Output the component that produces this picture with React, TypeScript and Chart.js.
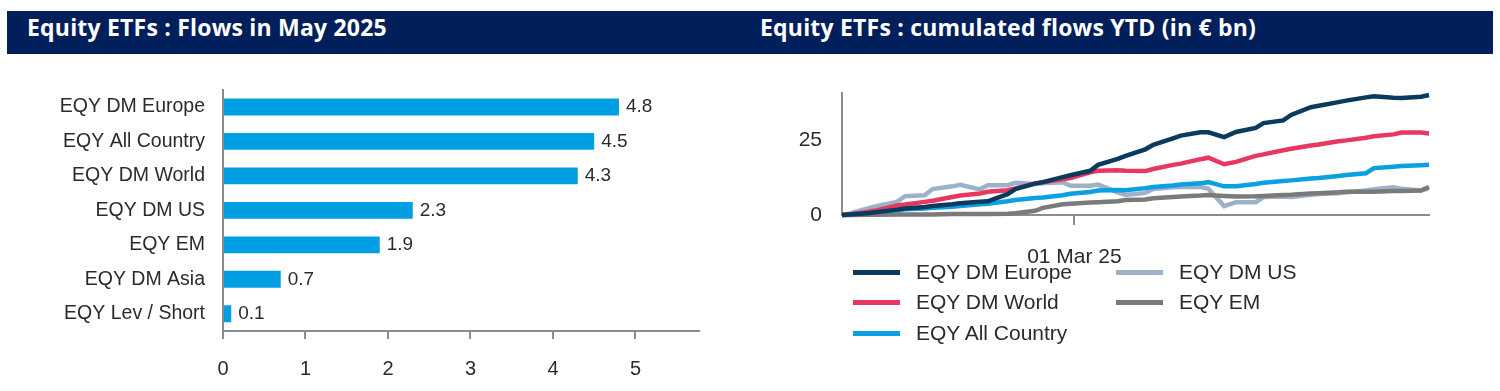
import React, { useEffect, useRef } from 'react';
import { Chart, registerables } from 'chart.js';

Chart.register(...registerables);

// ---------- Left panel: flows in May 2025 ----------
const barCategories = [
  'EQY DM Europe',
  'EQY All Country',
  'EQY DM World',
  'EQY DM US',
  'EQY EM',
  'EQY DM Asia',
  'EQY Lev / Short',
];
const barValues = [4.8, 4.5, 4.3, 2.3, 1.9, 0.7, 0.1];
const barTicks = [0, 1, 2, 3, 4, 5];
const barAxisMax = 5.77;

// ---------- Right panel: cumulated flows YTD ----------
const lineDates = [
  '2025-01-01', '2025-01-02', '2025-01-03', '2025-01-08', '2025-01-10', '2025-01-15', '2025-01-17',
  '2025-01-22', '2025-01-24', '2025-01-29', '2025-01-31', '2025-02-05', '2025-02-07', '2025-02-12',
  '2025-02-14', '2025-02-19', '2025-02-21', '2025-02-26', '2025-02-28', '2025-03-05', '2025-03-07',
  '2025-03-12', '2025-03-14', '2025-03-19', '2025-03-21', '2025-03-26', '2025-03-28', '2025-04-02',
  '2025-04-04', '2025-04-08', '2025-04-11', '2025-04-16', '2025-04-18', '2025-04-23', '2025-04-25',
  '2025-04-30', '2025-05-02', '2025-05-07', '2025-05-09', '2025-05-14', '2025-05-16', '2025-05-21',
  '2025-05-23', '2025-05-28', '2025-05-30',
];
const dmEurope = [
  0, 0.1, 0.2, 0.7, 1.0, 1.8, 2.2, 2.7, 3.0, 3.6, 3.9, 4.4, 4.6, 7.0, 8.7, 10.5, 11.0, 12.7, 13.3,
  14.8, 16.8, 18.8, 19.8, 22.0, 23.5, 25.7, 26.6, 27.7, 27.7, 26.1, 27.8, 29.2, 30.8, 31.7, 33.5,
  36.1, 36.6, 37.8, 38.3, 39.4, 39.8, 39.3, 39.2, 39.6, 40.2,
];
const dmWorld = [
  0, 0.1, 0.2, 1.2, 1.6, 3.2, 3.5, 4.4, 4.8, 6.0, 6.5, 7.2, 7.8, 8.3, 8.9, 10.6, 11.0, 12.0, 12.4,
  14.3, 14.8, 15.0, 14.8, 14.7, 15.4, 16.8, 17.2, 18.7, 19.2, 17.0, 17.8, 19.8, 20.3, 21.7, 22.2,
  23.3, 23.6, 24.7, 25.0, 25.9, 26.4, 27.0, 27.6, 27.6, 27.3,
];
const allCountry = [
  0, 0.1, 0.2, 0.8, 1.1, 1.6, 1.9, 2.2, 2.4, 2.8, 3.0, 3.6, 3.8, 4.6, 5.0, 5.7, 5.9, 6.6, 7.1,
  7.7, 8.2, 8.4, 8.3, 9.0, 9.4, 9.9, 10.2, 10.6, 11.0, 9.6, 9.6, 10.4, 10.8, 11.4, 11.6, 12.2,
  12.4, 13.1, 13.4, 14.0, 15.7, 16.2, 16.4, 16.7, 16.8,
];
const dmUS = [
  0, 0.2, 0.5, 2.4, 3.0, 4.4, 6.3, 6.6, 8.7, 9.6, 10.1, 8.6, 10.0, 10.0, 10.8, 10.4, 10.6, 11.0,
  9.8, 9.8, 10.2, 7.6, 6.7, 7.4, 8.7, 9.3, 9.4, 9.4, 8.8, 3.0, 4.3, 4.3, 6.0, 6.2, 6.0, 6.8, 7.0,
  7.3, 7.6, 8.2, 8.6, 9.3, 8.8, 8.2, 9.0,
];
const em = [
  0, 0, 0, 0.1, 0.1, 0.2, 0.2, 0.2, 0.2, 0.3, 0.3, 0.3, 0.3, 0.4, 0.6, 1.4, 2.4, 3.6, 3.8, 4.2,
  4.3, 4.6, 5.0, 5.2, 5.6, 6.0, 6.2, 6.5, 6.7, 6.4, 6.2, 6.3, 6.4, 6.7, 6.8, 7.2, 7.3, 7.6, 7.8,
  7.8, 7.8, 8.0, 8.0, 8.2, 9.4,
];
const lineYTicks = [0, 25];
const lineYMax = 41;
const xTickDate = '2025-03-01';
const xTickLabel = '01 Mar 25';

const FONT = '"Liberation Sans", Arial, sans-serif';
const AXIS = '#8c8c8c';
const TEXT = '#2b2b2b';
const BAR_COLOR = '#009fe3';

const C_EUROPE = '#0b3a5f';
const C_WORLD = '#e8385f';
const C_ALL = '#0aa0e1';
const C_US = '#9db1c9';
const C_EM = '#7a7a7a';

const lineSeries = [
  { label: 'EQY DM Europe', color: C_EUROPE, values: dmEurope },
  { label: 'EQY DM World', color: C_WORLD, values: dmWorld },
  { label: 'EQY All Country', color: C_ALL, values: allCountry },
  { label: 'EQY EM', color: C_EM, values: em },
  { label: 'EQY DM US', color: C_US, values: dmUS },
];
const legendCol1 = ['EQY DM Europe', 'EQY DM World', 'EQY All Country'];
const legendCol2 = ['EQY DM US', 'EQY EM'];

const DAY0 = Date.parse('2025-01-01T00:00:00Z');
const dayOf = (s: string) => (Date.parse(s + 'T00:00:00Z') - DAY0) / 86400000;

const valueLabelPlugin = {
  id: 'valueLabels',
  afterDatasetsDraw(chart: any) {
    const ctx = chart.ctx;
    const meta = chart.getDatasetMeta(0);
    ctx.save();
    ctx.font = `19px ${FONT}`;
    ctx.fillStyle = TEXT;
    ctx.textAlign = 'left';
    ctx.textBaseline = 'middle';
    meta.data.forEach((el: any, i: number) => {
      ctx.fillText(barValues[i].toFixed(1), el.x + 7, el.y);
    });
    ctx.restore();
  },
};

function BarPanel() {
  const ref = useRef<HTMLCanvasElement>(null);
  useEffect(() => {
    const chart = new Chart(ref.current as HTMLCanvasElement, {
      type: 'bar',
      data: {
        labels: barCategories,
        datasets: [
          {
            data: barValues,
            backgroundColor: BAR_COLOR,
            barPercentage: 0.5,
            categoryPercentage: 0.98,
          },
        ],
      },
      options: {
        indexAxis: 'y',
        responsive: false,
        animation: false,
        devicePixelRatio: 1,
        layout: { padding: { left: 0, right: 21, top: 28, bottom: 0 } },
        plugins: { legend: { display: false }, tooltip: { enabled: false } },
        scales: {
          x: {
            min: 0,
            max: barAxisMax,
            afterBuildTicks: (s: any) => {
              s.ticks = barTicks.map((v) => ({ value: v }));
            },
            grid: { display: true, drawOnChartArea: false, drawTicks: true, tickLength: 8, color: AXIS, lineWidth: 2 },
            border: { display: true, color: AXIS, width: 2 },
            ticks: { padding: 18, color: TEXT, font: { family: FONT, size: 20 }, maxRotation: 0 },
            afterFit: (s: any) => {
              s.height = 60;
            },
          },
          y: {
            grid: { display: false, drawTicks: false },
            border: { display: true, color: AXIS, width: 2 },
            ticks: { padding: 18, color: TEXT, font: { family: FONT, size: 19.5 } },
            afterFit: (s: any) => {
              s.width = 223;
            },
          },
        },
      } as any,
      plugins: [valueLabelPlugin],
    });
    return () => chart.destroy();
  }, []);
  return (
    <canvas
      ref={ref}
      width={720}
      height={331}
      style={{ position: 'absolute', left: 0, top: 60, width: 720, height: 331 }}
    />
  );
}

function LinePanel() {
  const ref = useRef<HTMLCanvasElement>(null);
  useEffect(() => {
    const xs = lineDates.map(dayOf);
    const chart = new Chart(ref.current as HTMLCanvasElement, {
      type: 'line',
      data: {
        datasets: lineSeries.map((s) => ({
          label: s.label,
          data: s.values.map((v, i) => ({ x: xs[i], y: v })),
          borderColor: s.color,
          backgroundColor: s.color,
          borderWidth: 4.5,
          pointRadius: 0,
          tension: 0,
          clip: false,
        })),
      },
      options: {
        responsive: false,
        animation: false,
        devicePixelRatio: 1,
        layout: { padding: { left: 0, right: 71, top: 32, bottom: 0 } },
        plugins: { legend: { display: false }, tooltip: { enabled: false } },
        scales: {
          x: {
            type: 'linear',
            min: xs[0],
            max: xs[xs.length - 1],
            afterBuildTicks: (s: any) => {
              s.ticks = [{ value: dayOf(xTickDate) }];
            },
            grid: { display: true, drawOnChartArea: false, drawTicks: true, tickLength: 10, color: AXIS, lineWidth: 2 },
            border: { display: true, color: AXIS, width: 2 },
            ticks: {
              padding: 20,
              color: TEXT,
              font: { family: FONT, size: 21 },
              maxRotation: 0,
              autoSkip: false,
              callback: (v: any) => (v === dayOf(xTickDate) ? xTickLabel : ''),
            },
            afterFit: (s: any) => {
              s.height = 125;
            },
          },
          y: {
            min: 0,
            max: lineYMax,
            afterBuildTicks: (s: any) => {
              s.ticks = lineYTicks.map((v) => ({ value: v }));
            },
            grid: { display: false, drawTicks: false },
            border: { display: true, color: AXIS, width: 2 },
            ticks: { padding: 20, color: TEXT, font: { family: FONT, size: 21 } },
            afterFit: (s: any) => {
              s.width = 82;
            },
          },
        },
      } as any,
    });
    return () => chart.destroy();
  }, []);
  return (
    <canvas
      ref={ref}
      width={740}
      height={280}
      style={{ position: 'absolute', left: 760, top: 60, width: 740, height: 280 }}
    />
  );
}

function LegendItem({ label, left, top }: { label: string; left: number; top: number }) {
  const s = lineSeries.find((d) => d.label === label)!;
  return (
    <div style={{ position: 'absolute', left, top: top - 15, height: 30, display: 'flex', alignItems: 'center' }}>
      <div style={{ width: 47, height: 5, background: s.color, marginRight: 16 }} />
      <span style={{ font: `21px ${FONT}`, color: TEXT, whiteSpace: 'nowrap' }}>{label}</span>
    </div>
  );
}

const HEADER_BG = '#011f5b';
const TITLE_FONT = `700 23px "Open Sans", "Noto Sans", sans-serif`;

export default function App() {
  const rowY = [272, 302, 333];
  const titleStyle: React.CSSProperties = {
    position: 'absolute',
    top: 11,
    height: 43,
    lineHeight: '43px',
    color: '#fff',
    font: TITLE_FONT,
    letterSpacing: '0.2px',
    whiteSpace: 'nowrap',
  };
  return (
    <div
      style={{
        position: 'fixed',
        left: 0,
        top: 0,
        width: 1500,
        height: 391,
        background: '#fff',
        overflow: 'hidden',
      }}
    >
      <div
        style={{
          position: 'absolute',
          left: 7,
          top: 11,
          width: 1486,
          height: 43,
          background: HEADER_BG,
        }}
      />
      <div style={{ ...titleStyle, left: 27 }}>Equity ETFs : Flows in May 2025</div>
      <div style={{ ...titleStyle, left: 760 }}>Equity ETFs : cumulated flows YTD (in € bn)</div>
      <BarPanel />
      <LinePanel />
      {legendCol1.map((l, i) => (
        <LegendItem key={l} label={l} left={853} top={rowY[i]} />
      ))}
      {legendCol2.map((l, i) => (
        <LegendItem key={l} label={l} left={1116} top={rowY[i]} />
      ))}
    </div>
  );
}
